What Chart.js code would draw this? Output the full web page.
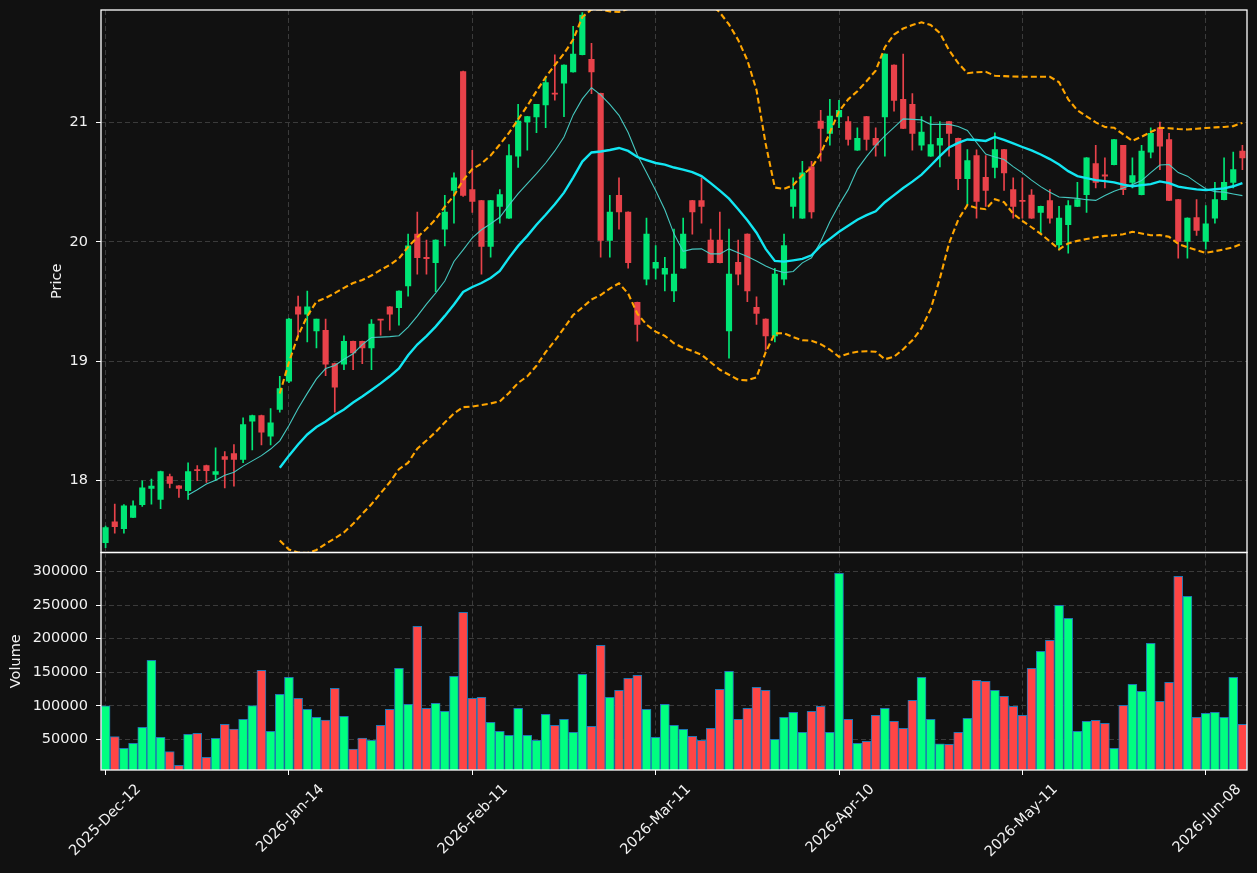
<!DOCTYPE html>
<html>
<head>
<meta charset="utf-8">
<script src="https://cdn.jsdelivr.net/npm/chart.js@4.4.1/dist/chart.umd.min.js"></script>
<style>
html, body { margin: 0; padding: 0; background: #111111; }
#wrap { position: relative; width: 1257px; height: 873px; overflow: hidden; background: #111111; }
#pc { position: absolute; left: 0; top: 0; }
#vc { position: absolute; left: 0; top: 540px; }
</style>
</head>
<body>
<div id="wrap">
  <canvas id="pc" width="1257" height="560" style="width:1257px;height:560px"></canvas>
  <canvas id="vc" width="1257" height="333" style="width:1257px;height:333px"></canvas>
</div>
<script>
// ---------- data ----------
const tickLabels = ['2025-Dec-12', '2026-Jan-14', '2026-Feb-11', '2026-Mar-11', '2026-Apr-10', '2026-May-11', '2026-Jun-08'];
const tickEvery = 20;

const open = [17.482,17.655,17.599,17.692,17.80,17.935,17.843,18.034,17.958,17.916,
18.092,18.126,18.053,18.202,18.227,18.179,18.498,18.546,18.372,18.597,
18.834,19.456,19.395,19.255,19.26,18.981,18.975,19.168,19.168,19.112,
19.35,19.456,19.448,19.63,20.065,19.87,19.826,20.107,20.431,21.426,
20.437,20.345,19.961,20.297,20.199,20.717,21.003,21.045,21.146,21.245,
21.328,21.423,21.566,21.529,21.244,20.011,20.389,20.25,19.493,19.687,
19.779,19.729,19.588,19.779,20.345,20.345,20.014,20.014,19.255,19.829,
20.065,19.451,19.353,19.213,19.687,20.297,20.199,20.628,21.011,20.908,
21.045,21.006,20.767,21.048,20.866,21.045,21.479,21.193,21.151,20.809,
20.717,20.809,21.006,20.866,20.529,20.723,20.54,20.624,20.773,20.437,
20.345,20.392,20.246,20.345,19.975,20.143,20.297,20.395,20.655,20.56,
20.647,20.807,20.498,20.395,20.751,20.955,20.857,20.353,20.003,20.204,
20.003,20.199,20.353,20.498,20.759];

const high = [17.62,17.804,17.80,17.832,18.0,18.014,18.08,18.056,17.96,18.149,
18.126,18.13,18.275,18.244,18.303,18.527,18.55,18.55,18.603,18.874,
19.36,19.546,19.588,19.353,19.353,18.985,19.213,19.17,19.17,19.35,
19.352,19.458,19.59,20.065,20.25,20.014,20.016,20.389,20.577,21.43,
20.767,20.347,20.347,20.437,20.815,21.151,21.05,21.152,21.381,21.566,
21.482,21.804,21.92,21.661,21.246,20.389,20.535,20.252,19.495,20.199,
19.969,19.871,20.107,20.199,20.347,20.535,20.107,20.25,20.107,20.014,
20.067,19.54,19.355,19.779,20.065,20.535,20.675,20.675,21.101,21.193,
21.185,21.048,20.955,21.05,20.955,21.573,21.481,21.571,21.241,21.048,
21.048,21.006,21.008,20.868,20.773,20.77,20.723,20.913,20.775,20.535,
20.535,20.437,20.299,20.437,20.297,20.345,20.498,20.705,20.807,20.703,
20.859,20.809,20.703,20.807,20.955,21.003,20.908,20.355,20.201,20.353,
20.303,20.498,20.703,20.751,20.807];

const low = [17.44,17.56,17.56,17.69,17.784,17.804,17.767,17.939,17.86,17.843,
18.0,17.986,18.0,17.939,17.955,18.151,18.258,18.30,18.30,18.574,
18.82,19.218,19.162,19.112,18.88,18.574,18.93,18.93,18.98,18.93,
19.218,19.26,19.303,19.546,19.729,19.729,19.582,19.966,20.157,20.38,
20.246,19.729,19.871,20.157,20.197,20.624,20.767,20.913,20.955,21.187,
21.048,21.42,21.564,21.241,19.871,19.871,20.107,19.779,19.168,19.639,
19.687,19.588,19.498,19.777,20.065,20.157,19.824,19.824,19.025,19.639,
19.498,19.308,19.092,19.162,19.639,20.199,20.197,20.199,20.675,20.809,
20.955,20.809,20.765,20.767,20.717,20.717,21.095,20.948,20.767,20.767,
20.715,20.628,20.717,20.437,20.305,20.199,20.297,20.535,20.431,20.199,
20.199,20.197,20.067,20.157,19.933,19.905,20.295,20.246,20.451,20.451,
20.645,20.395,20.451,20.393,20.703,20.605,20.345,19.863,19.863,20.053,
19.939,20.157,20.351,20.451,20.605];

const close = [17.608,17.616,17.79,17.79,17.941,17.955,18.076,17.977,17.935,18.076,
18.084,18.084,18.076,18.179,18.179,18.471,18.546,18.406,18.485,18.771,
19.353,19.395,19.456,19.353,18.975,18.784,19.168,19.07,19.112,19.311,
19.345,19.395,19.588,19.966,19.868,19.86,20.014,20.25,20.535,20.389,
20.339,19.961,20.345,20.395,20.723,21.011,21.048,21.151,21.334,21.236,
21.479,21.571,21.899,21.423,20.011,20.25,20.25,19.826,19.308,20.065,
19.829,19.779,19.729,20.065,20.25,20.297,19.826,19.826,19.729,19.729,
19.588,19.401,19.213,19.729,19.969,20.437,20.577,20.25,20.95,21.053,
21.101,20.857,20.866,20.857,20.809,21.571,21.185,20.95,20.908,20.919,
20.815,20.866,20.908,20.529,20.681,20.339,20.431,20.773,20.577,20.297,
20.339,20.199,20.297,20.199,20.199,20.303,20.353,20.703,20.498,20.55,
20.857,20.437,20.555,20.759,20.908,20.801,20.347,20.003,20.199,20.095,
20.151,20.353,20.498,20.605,20.703];

const volume = [100000,53900,36600,44000,67900,167800,53000,31500,11200,57500,
59000,23200,51500,72400,65400,79800,100100,152900,61900,117100,
142500,111200,94700,82800,78800,126100,84300,35500,51900,48500,
70900,94700,155900,102200,218600,96200,103700,91800,144000,239400,
111200,112600,75400,61900,56000,96200,56000,48500,87300,70900,
79800,60400,147000,69400,190200,112600,123100,141000,145500,94700,
53000,102200,70900,64900,54500,48500,66400,124600,151400,79800,
96200,127600,123100,50000,82800,90300,60400,91800,99200,60400,
297600,79800,44000,47000,85800,96200,76800,66400,108200,142500,
79800,43400,42500,60400,81300,138000,136500,123100,114100,99200,
85800,155900,181300,197700,249900,230500,61900,76800,78300,73900,
36600,100700,132000,121600,193200,106700,135000,293100,263300,82800,
88800,90300,82800,142500,72400];

// moving average lines as drawn (10-bar from index 9, 20-bar and bands from index 19)
const sma10Start = 9;
const sma10Values = [17.880,17.924,17.972,18.004,18.046,18.071,18.122,18.166,18.21,18.265,18.334,
18.462,18.605,18.731,18.853,18.939,18.965,19.017,19.063,19.139,19.199,
19.202,19.206,19.214,19.286,19.378,19.479,19.571,19.672,19.836,19.933,
20.034,20.101,20.151,20.206,20.307,20.403,20.487,20.571,20.66,20.761,
20.878,21.063,21.197,21.29,21.231,21.151,21.059,20.916,20.727,20.58,
20.429,20.269,20.067,19.92,19.939,19.941,19.899,19.899,19.941,19.908,
19.878,19.84,19.798,19.765,19.742,19.752,19.824,19.866,20.0,20.168,
20.311,20.437,20.609,20.714,20.807,20.887,20.958,21.029,21.025,21.021,
20.983,20.983,20.983,20.966,20.933,20.832,20.735,20.71,20.689,20.63,
20.577,20.517,20.462,20.416,20.376,20.37,20.364,20.353,20.347,20.387,
20.424,20.45,20.479,20.513,20.58,20.643,20.647,20.58,20.55,20.496,
20.445,20.42,20.416,20.401,20.387];

const bandStart = 19;
const sma20Values = [18.109,18.21,18.303,18.387,18.45,18.496,18.55,18.597,18.655,18.706,18.76,
18.815,18.874,18.941,19.05,19.14,19.21,19.29,19.38,19.475,19.58,
19.622,19.655,19.697,19.756,19.866,19.966,20.05,20.143,20.227,20.315,
20.412,20.538,20.672,20.748,20.756,20.769,20.786,20.761,20.71,20.685,
20.66,20.647,20.622,20.605,20.584,20.55,20.492,20.429,20.361,20.273,
20.181,20.076,19.941,19.84,19.834,19.845,19.857,19.887,19.966,20.025,
20.084,20.134,20.185,20.223,20.256,20.332,20.391,20.45,20.504,20.563,
20.639,20.718,20.79,20.828,20.857,20.853,20.845,20.878,20.853,20.824,
20.794,20.765,20.731,20.693,20.647,20.592,20.55,20.534,20.517,20.508,
20.498,20.479,20.466,20.475,20.483,20.506,20.492,20.462,20.45,20.439,
20.433,20.44,20.448,20.465,20.492];

const upperValues = [18.73,18.992,19.215,19.378,19.50,19.53,19.57,19.615,19.655,19.68,19.718,
19.765,19.807,19.861,19.958,20.038,20.109,20.189,20.294,20.387,20.517,
20.609,20.655,20.723,20.815,20.912,21.025,21.139,21.261,21.378,21.479,
21.576,21.693,21.882,21.945,21.945,21.929,21.924,21.95,22.021,22.063,
22.072,22.081,22.093,22.097,22.082,22.045,21.992,21.92,21.82,21.69,
21.521,21.27,20.82,20.454,20.443,20.475,20.559,20.622,20.739,20.916,
21.092,21.193,21.261,21.345,21.433,21.63,21.735,21.786,21.815,21.838,
21.815,21.748,21.605,21.496,21.412,21.42,21.423,21.391,21.387,21.384,
21.382,21.382,21.382,21.382,21.336,21.193,21.101,21.05,21.0,20.962,
20.955,20.899,20.845,20.88,20.92,20.955,20.951,20.945,20.941,20.947,
20.953,20.958,20.962,20.969,20.996];

const lowerValues = [17.5,17.424,17.399,17.395,17.42,17.471,17.517,17.567,17.639,17.723,17.803,
17.895,17.987,18.097,18.151,18.269,18.336,18.408,18.487,18.563,18.616,
18.62,18.634,18.647,18.664,18.735,18.819,18.874,18.962,19.076,19.172,
19.277,19.387,19.45,19.517,19.555,19.609,19.653,19.567,19.399,19.307,
19.248,19.213,19.151,19.113,19.086,19.055,18.992,18.929,18.887,18.845,
18.84,18.866,19.076,19.233,19.235,19.202,19.176,19.172,19.143,19.097,
19.038,19.063,19.08,19.084,19.08,19.017,19.038,19.101,19.176,19.277,
19.437,19.693,19.987,20.185,20.309,20.283,20.273,20.357,20.332,20.235,
20.176,20.122,20.067,20.004,19.937,19.987,20.008,20.023,20.038,20.05,
20.055,20.063,20.084,20.07,20.055,20.056,20.042,19.983,19.954,19.93,
19.908,19.922,19.937,19.955,19.987];

const priceTicks = [18, 19, 20, 21];
const volumeTicks = [50000, 100000, 150000, 200000, 250000, 300000];
const priceRange = [17.399, 21.941];
const volumeRange = [4200, 328600];

// ---------- styling ----------
const TEXT = '#f2f2f2';
const GRID = '#3b3b3b';
const GRID_DASH = [5, 3];
const CANDLE_UP = '#00e676';
const CANDLE_DOWN = '#e8424a';
const VOL_UP = '#00ff80';
const VOL_DOWN = '#ff4545';
const VOL_EDGE = '#1f77b4';
const FONT = { family: 'DejaVu Sans', size: 14.5 };

Chart.defaults.font.family = FONT.family;
Chart.defaults.font.size = FONT.size;
Chart.defaults.color = TEXT;

const withLead = (n, arr) => Array(n).fill(null).concat(arr);
const categories = close.map((_, i) => i);
const isUp = close.map((c, i) => c >= open[i]);
const sma10 = withLead(sma10Start, sma10Values);
const sma20 = withLead(bandStart, sma20Values);
const bbUpper = withLead(bandStart, upperValues);
const bbLower = withLead(bandStart, lowerValues);

const framePlugin = {
  id: 'frame',
  afterDraw(chart) {
    const { ctx, chartArea: a } = chart;
    ctx.save();
    ctx.strokeStyle = '#ffffff';
    ctx.lineWidth = 1.3;
    ctx.strokeRect(a.left, a.top, a.right - a.left, a.bottom - a.top);
    ctx.restore();
  }
};

const keepEvery = (s) => { s.ticks = s.ticks.filter(t => t.value % tickEvery === 0); };

// ---------- price panel ----------
new Chart(document.getElementById('pc'), {
  type: 'bar',
  data: {
    labels: categories,
    datasets: [
      { type: 'line', label: 'Upper band', data: bbUpper, borderColor: '#ffa500', borderWidth: 2.1,
        borderDash: [6, 3.2], pointRadius: 0, fill: false, tension: 0, order: 0 },
      { type: 'line', label: 'Lower band', data: bbLower, borderColor: '#ffa500', borderWidth: 2.1,
        borderDash: [6, 3.2], pointRadius: 0, fill: false, tension: 0, order: 0 },
      { type: 'line', label: 'MA20', data: sma20, borderColor: '#12e6f2', borderWidth: 2.4,
        pointRadius: 0, fill: false, tension: 0, order: 1 },
      { type: 'line', label: 'MA10', data: sma10, borderColor: 'rgba(72,209,200,0.95)', borderWidth: 1.1,
        pointRadius: 0, fill: false, tension: 0, order: 2 },
      { label: 'Body', data: open.map((o, i) => [o, close[i]]),
        backgroundColor: isUp.map(u => u ? CANDLE_UP : CANDLE_DOWN),
        barThickness: 5.5, minBarLength: 1, grouped: false, order: 5 },
      { label: 'Wick', data: low.map((l, i) => [l, high[i]]),
        backgroundColor: isUp.map(u => u ? CANDLE_UP : CANDLE_DOWN),
        barThickness: 1, grouped: false, order: 6 }
    ]
  },
  options: {
    responsive: false, animation: false, devicePixelRatio: 1, events: [],
    layout: { padding: { top: 10, bottom: 7.5, left: 0, right: 10 } },
    plugins: { legend: { display: false }, tooltip: { enabled: false } },
    scales: {
      x: {
        type: 'category', offset: true,
        afterBuildTicks: keepEvery,
        afterFit: (s) => { s.height = 0; s.paddingLeft = 0; s.paddingRight = 0; },
        ticks: { display: false },
        grid: { color: GRID, offset: false, drawTicks: false },
        border: { display: false, dash: GRID_DASH }
      },
      y: {
        min: priceRange[0], max: priceRange[1],
        afterBuildTicks: (s) => { s.ticks = priceTicks.map(v => ({ value: v })); },
        afterFit: (s) => { s.width = 101; s.paddingTop = 0; s.paddingBottom = 0; },
        ticks: { color: TEXT, padding: 8, callback: (v) => String(v) },
        grid: { color: GRID, tickColor: '#ffffff', tickLength: 5 },
        border: { display: false, dash: GRID_DASH },
        title: { display: true, text: 'Price', color: TEXT, font: FONT, padding: { top: 49, bottom: 0 } }
      }
    }
  },
  plugins: [framePlugin]
});

// ---------- volume panel ----------
new Chart(document.getElementById('vc'), {
  type: 'bar',
  data: {
    labels: categories,
    datasets: [
      { label: 'Volume', data: volume,
        backgroundColor: isUp.map(u => u ? VOL_UP : VOL_DOWN),
        borderColor: VOL_EDGE, borderWidth: 1, borderSkipped: 'start',
        barThickness: 9 }
    ]
  },
  options: {
    responsive: false, animation: false, devicePixelRatio: 1, events: [],
    layout: { padding: { top: 12.5, bottom: 0, left: 0, right: 10 } },
    plugins: { legend: { display: false }, tooltip: { enabled: false } },
    scales: {
      x: {
        type: 'category', offset: true,
        afterBuildTicks: keepEvery,
        afterFit: (s) => { s.height = 103; s.paddingLeft = 0; s.paddingRight = 0; },
        ticks: {
          color: TEXT, autoSkip: false, minRotation: 45, maxRotation: 45,
          padding: 6, labelOffset: 33,
          callback: (v) => tickLabels[Math.round(v / tickEvery)]
        },
        grid: { color: GRID, offset: false, tickColor: '#ffffff', tickLength: 5 },
        border: { display: false, dash: GRID_DASH }
      },
      y: {
        min: volumeRange[0], max: volumeRange[1],
        afterBuildTicks: (s) => { s.ticks = volumeTicks.map(v => ({ value: v })); },
        afterFit: (s) => { s.width = 101; s.paddingTop = 0; s.paddingBottom = 0; },
        ticks: { color: TEXT, padding: 8, callback: (v) => String(v) },
        grid: { color: GRID, tickColor: '#ffffff', tickLength: 5 },
        border: { display: false, dash: GRID_DASH },
        title: { display: true, text: 'Volume', color: TEXT, font: FONT, padding: { top: 8, bottom: 0 } }
      }
    }
  },
  plugins: [framePlugin]
});
</script>
</body>
</html>
